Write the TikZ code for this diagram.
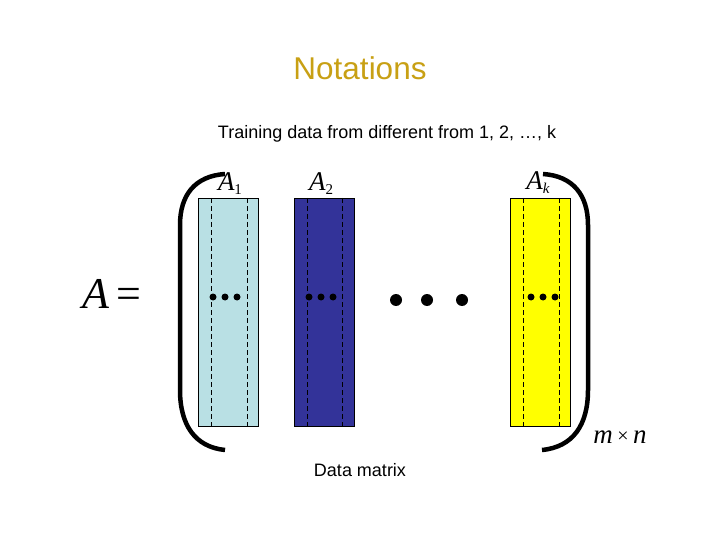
\documentclass[tikz,border=0pt]{standalone}
\usepackage{fontspec}
\setmainfont{Liberation Sans}
\newfontfamily\tms{Liberation Serif}
\definecolor{titlecol}{RGB}{200,160,20}
\definecolor{lblue}{RGB}{185,224,228}
\definecolor{dblue}{RGB}{51,51,153}
\definecolor{yel}{RGB}{255,255,0}
\begin{document}
\begin{tikzpicture}[x=1pt,y=-1pt,
  colbox/.style={draw=black,line width=0.8pt},
  dashline/.style={dashed,line width=0.7pt,dash pattern=on 5pt off 3pt},
  bracket/.style={line width=4.5pt},
  smalldot/.style={circle,fill=black,inner sep=0pt,minimum size=7pt},
  bigdot/.style={circle,fill=black,inner sep=0pt,minimum size=12pt},
  lbl/.style={inner sep=0pt,font=\tms\itshape}]
\useasboundingbox (0,0) rectangle (720,540);
% title
\node[text=titlecol,font=\fontsize{31.5}{34}\selectfont] (title) at (360,68) {Notations};
\node[font=\fontsize{18}{21}\selectfont] (train) at (387,134) {Training data from different from 1, 2, \dots, k};
\node[font=\fontsize{18}{21}\selectfont] (dm) at (360,470) {Data matrix};
% columns
\fill[lblue] (198,198) rectangle (258,426);
\draw[colbox] (198,198) rectangle (258,426);
\fill[dblue] (294,198) rectangle (354,426);
\draw[colbox] (294,198) rectangle (354,426);
\fill[yel] (510,198) rectangle (570,426);
\draw[colbox] (510,198) rectangle (570,426);
\foreach \x in {211,247,307,342,523,559}
  \draw[dashline] (\x,198) -- (\x,426);
% small dots
\foreach \x in {213,225,237,309,321,333,531,543,555}
  \node[smalldot] at (\x,297) {};
% big dots
\foreach \x in {396,427,462}
  \node[bigdot] at (\x,300) {};
% labels
\node[lbl,font=\tms\itshape\fontsize{27}{28}\selectfont] (a1) at (230,184) {A\raisebox{-4pt}{\fontsize{15}{16}\selectfont\upshape 1}};
\node[lbl,font=\tms\itshape\fontsize{27}{28}\selectfont] (a2) at (321,184) {A\raisebox{-4pt}{\fontsize{15}{16}\selectfont\upshape 2}};
\node[lbl,font=\tms\itshape\fontsize{27}{28}\selectfont] (ak) at (538,183) {A\raisebox{-4pt}{\fontsize{15}{16}\selectfont k}};
\node[lbl,font=\tms\fontsize{44}{46}\selectfont] (aeq) at (112,294) {\textit{A}\,=};
\node[lbl,font=\tms\fontsize{27}{28}\selectfont] (mn) at (620,437) {\textit{m}\,{\fontsize{20}{22}\selectfont\raisebox{1pt}{×}}\,\textit{n}};
% brackets
\draw[bracket] (225,174) .. controls (195,176) and (180,195) .. (180,225) -- (180,390) .. controls (180,425) and (195,447) .. (225,450);
\draw[bracket] (543,174) .. controls (573,176) and (588,195) .. (588,225) -- (588,390) .. controls (588,425) and (573,447) .. (542,450);
\end{tikzpicture}
\end{document}
